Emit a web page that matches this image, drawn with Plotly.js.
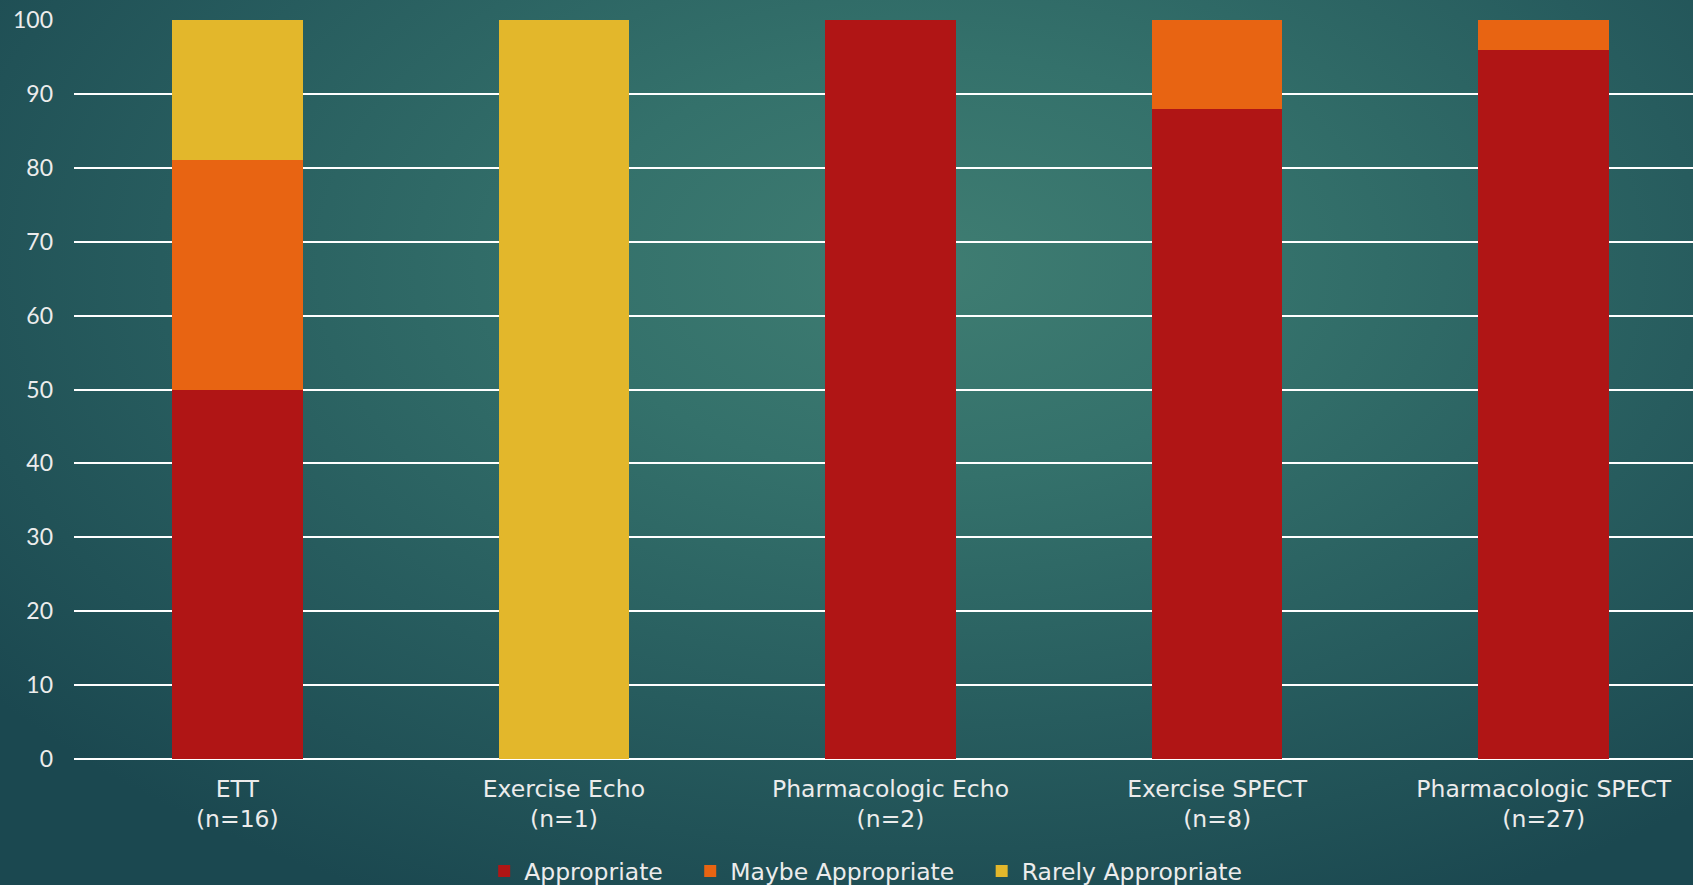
<!DOCTYPE html>
<html>
<head>
<meta charset="utf-8">
<script src="https://cdn.plot.ly/plotly-3.0.1.min.js"></script>
<style>
  html, body { margin: 0; padding: 0; width: 1693px; height: 885px; overflow: hidden; }
  body {
    background: radial-gradient(ellipse 70% 80% at 55% 30%, #3f7d72 0%, #34716b 30%, #275c5e 65%, #1b4850 100%);
  }
  #chart { width: 1693px; height: 885px; }
</style>
</head>
<body>
<div id="chart"></div>
<script>
const categories = ["ETT<br>(n=16)", "Exercise Echo<br>(n=1)", "Pharmacologic Echo<br>(n=2)", "Exercise SPECT<br>(n=8)", "Pharmacologic SPECT<br>(n=27)"];
const seriesNames = ["Appropriate", "Maybe Appropriate", "Rarely Appropriate"];
const appropriate = [50, 0, 100, 88, 96];
const maybeAppropriate = [31, 0, 0, 12, 4];
const rarelyAppropriate = [19, 100, 0, 0, 0];
const yTicks = [0, 10, 20, 30, 40, 50, 60, 70, 80, 90, 100];

const FONT = "'DejaVu Sans', sans-serif";
const YFONT = "Lato, 'Open Sans', sans-serif";
const TXT = "#ececec";
const PAD = "\u00a0\u00a0\u00a0";

const traces = [
  { name: seriesNames[0] + PAD, y: appropriate, color: "#b01515" },
  { name: seriesNames[1] + PAD, y: maybeAppropriate, color: "#e86412" },
  { name: seriesNames[2], y: rarelyAppropriate, color: "#e3b72b" }
].map(s => ({
  type: "bar",
  name: s.name,
  x: categories,
  y: s.y,
  width: 0.4,
  marker: { color: s.color, line: { width: 0 } },
  hoverinfo: "x+y+name"
}));

const layout = {
  width: 1693,
  height: 885,
  paper_bgcolor: "rgba(0,0,0,0)",
  plot_bgcolor: "rgba(0,0,0,0)",
  barmode: "stack",
  margin: { l: 74, r: 0, t: 20, b: 126, pad: 0, autoexpand: false },
  font: { family: FONT, color: TXT, size: 23 },
  showlegend: true,
  legend: {
    orientation: "h",
    traceorder: "normal",
    x: 0.489, xanchor: "center",
    y: -0.152, yanchor: "middle",
    font: { family: FONT, color: TXT, size: 23.5 },
    itemwidth: 30,
    bgcolor: "rgba(0,0,0,0)"
  },
  xaxis: {
    type: "category",
    range: [-0.5, 4.457],
    showgrid: false,
    showline: false,
    zeroline: false,
    ticks: "",
    ticklabelstandoff: 13,
    tickfont: { family: FONT, color: TXT, size: 23.5 },
    fixedrange: true
  },
  yaxis: {
    range: [0, 100],
    tickvals: yTicks,
    ticktext: yTicks.map(String),
    showgrid: true,
    gridcolor: "#ffffff",
    gridwidth: 2,
    zeroline: true,
    zerolinecolor: "#ffffff",
    zerolinewidth: 2,
    showline: false,
    ticks: "",
    ticklabelstandoff: 20,
    tickfont: { family: YFONT, color: TXT, size: 23 },
    fixedrange: true
  }
};

Plotly.newPlot("chart", traces, layout, { displayModeBar: false, staticPlot: true });
</script>
</body>
</html>
